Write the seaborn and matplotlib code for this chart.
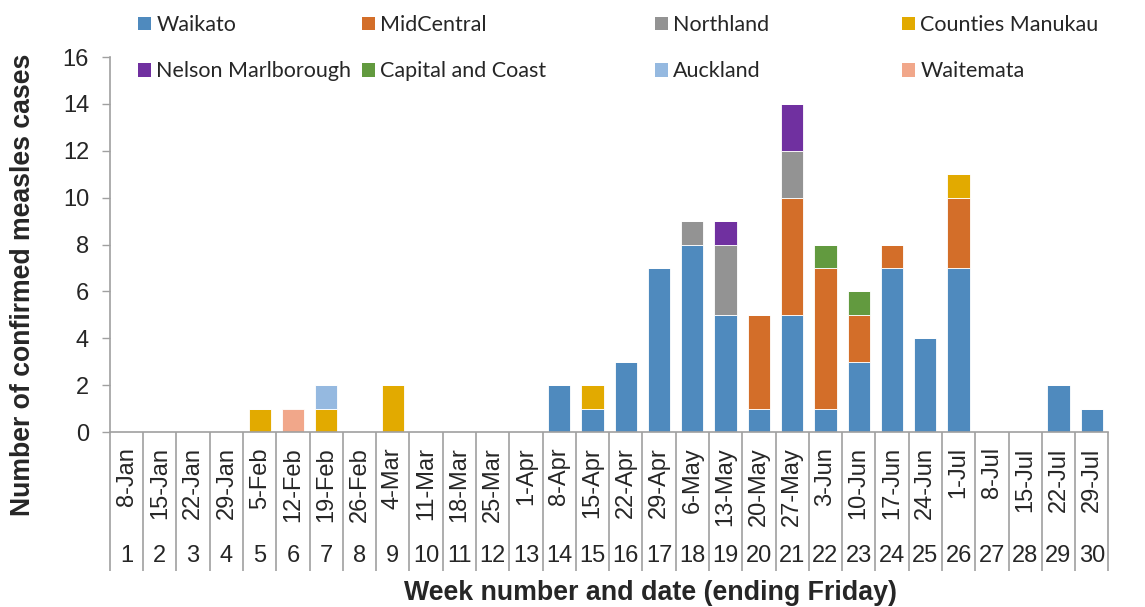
import pandas as pd
import matplotlib
matplotlib.use("Agg")
import matplotlib.pyplot as plt
from matplotlib.patches import Patch
import seaborn as sns

# week ending dates and week numbers
dates = ['8-Jan', '15-Jan', '22-Jan', '29-Jan', '5-Feb', '12-Feb', '19-Feb', '26-Feb',
         '4-Mar', '11-Mar', '18-Mar', '25-Mar', '1-Apr', '8-Apr', '15-Apr', '22-Apr',
         '29-Apr', '6-May', '13-May', '20-May', '27-May', '3-Jun', '10-Jun', '17-Jun',
         '24-Jun', '1-Jul', '8-Jul', '15-Jul', '22-Jul', '29-Jul']
weeks = list(range(1, 31))

# confirmed cases per DHB, weeks 1..30
waikato    = [0, 0, 0, 0, 0, 0, 0, 0, 0, 0, 0, 0, 0, 2, 1, 3, 7, 8, 5, 1, 5, 1, 3, 7, 4, 7, 0, 0, 2, 1]
midcentral = [0, 0, 0, 0, 0, 0, 0, 0, 0, 0, 0, 0, 0, 0, 0, 0, 0, 0, 0, 4, 5, 6, 2, 1, 0, 3, 0, 0, 0, 0]
northland  = [0, 0, 0, 0, 0, 0, 0, 0, 0, 0, 0, 0, 0, 0, 0, 0, 0, 1, 3, 0, 2, 0, 0, 0, 0, 0, 0, 0, 0, 0]
counties   = [0, 0, 0, 0, 1, 0, 1, 0, 2, 0, 0, 0, 0, 0, 1, 0, 0, 0, 0, 0, 0, 0, 0, 0, 0, 1, 0, 0, 0, 0]
nelson     = [0, 0, 0, 0, 0, 0, 0, 0, 0, 0, 0, 0, 0, 0, 0, 0, 0, 0, 1, 0, 2, 0, 0, 0, 0, 0, 0, 0, 0, 0]
capital    = [0, 0, 0, 0, 0, 0, 0, 0, 0, 0, 0, 0, 0, 0, 0, 0, 0, 0, 0, 0, 0, 1, 1, 0, 0, 0, 0, 0, 0, 0]
auckland   = [0, 0, 0, 0, 0, 0, 1, 0, 0, 0, 0, 0, 0, 0, 0, 0, 0, 0, 0, 0, 0, 0, 0, 0, 0, 0, 0, 0, 0, 0]
waitemata  = [0, 0, 0, 0, 0, 1, 0, 0, 0, 0, 0, 0, 0, 0, 0, 0, 0, 0, 0, 0, 0, 0, 0, 0, 0, 0, 0, 0, 0, 0]

regions = ['Waikato', 'MidCentral', 'Northland', 'Counties Manukau',
           'Nelson Marlborough', 'Capital and Coast', 'Auckland', 'Waitemata']
colors = ['#4F8ABE', '#D36E29', '#939393', '#E2AA00',
          '#7030A0', '#629A3F', '#95B9E0', '#F1A78A']

df = pd.DataFrame({'date': dates, 'week': weeks,
                   'Waikato': waikato, 'MidCentral': midcentral, 'Northland': northland,
                   'Counties Manukau': counties, 'Nelson Marlborough': nelson,
                   'Capital and Coast': capital, 'Auckland': auckland, 'Waitemata': waitemata})

sns.set_style("white")
plt.rcParams['font.family'] = ['Liberation Sans', 'DejaVu Sans']
FS = 17

fig = plt.figure(figsize=(11.45, 6.07), dpi=100)
ax = fig.add_axes([0.096, 0.2883, 0.872, 0.6177])

bottom = pd.Series(0, index=df.index)
for reg, col in zip(regions, colors):
    sns.barplot(data=df, x='date', y=reg, order=dates, color=col, errorbar=None, saturation=1,
                width=0.67, bottom=bottom.values, edgecolor='white', linewidth=0.6, ax=ax)
    bottom = bottom + df[reg]

ax.set_xlim(-0.5, 29.5)
ax.set_ylim(0, 16)
ax.set_yticks(range(0, 17, 2))
ax.tick_params(axis='y', labelsize=FS, length=6, width=1, color='#a0a0a0', pad=9, left=True)
ax.tick_params(axis='x', labelsize=FS, length=0, pad=11, rotation=90)
ax.set_xticks(range(30))
ax.set_xticklabels(dates)

for s in ['top', 'right']:
    ax.spines[s].set_visible(False)
for s in ['left', 'bottom']:
    ax.spines[s].set_color('#a0a0a0')
    ax.spines[s].set_linewidth(1.2)

# category separators and week numbers below the axis
trans = ax.get_xaxis_transform()
ax.vlines([i - 0.5 for i in range(31)], -0.371, 0, transform=trans,
          colors='#a0a0a0', linewidth=1.2, clip_on=False)
for i, w in enumerate(weeks):
    ax.text(i, -0.331, str(w), transform=trans, ha='center', va='center', fontsize=FS)

ax.set_xlabel('')
ax.set_ylabel('')
fig.text(23 / 1145, 1 - 285 / 607, 'Number of confirmed measles cases', rotation=90,
         ha='center', va='center', fontsize=19.2, fontweight='bold')
fig.text(651 / 1145, 1 - 593 / 607, 'Week number and date (ending Friday)', ha='center',
         va='center', fontsize=19.3, fontweight='bold')

# legend, laid out as four columns of two entries
handles = [Patch(facecolor=c, edgecolor='none') for c in colors]
col_x = [138, 362, 655, 902]
for k, x in enumerate(col_x):
    fig.legend([handles[k], handles[k + 4]], [regions[k], regions[k + 4]],
               loc='upper left', bbox_to_anchor=(x / 1145, 1 - 15 / 607),
               frameon=False, borderpad=0, borderaxespad=0,
               handlelength=0.6, handleheight=0.6, handletextpad=0.25,
               labelspacing=1.22, prop={'family': 'Lato', 'size': 15.5})

fig.savefig('out.png', dpi=100)
